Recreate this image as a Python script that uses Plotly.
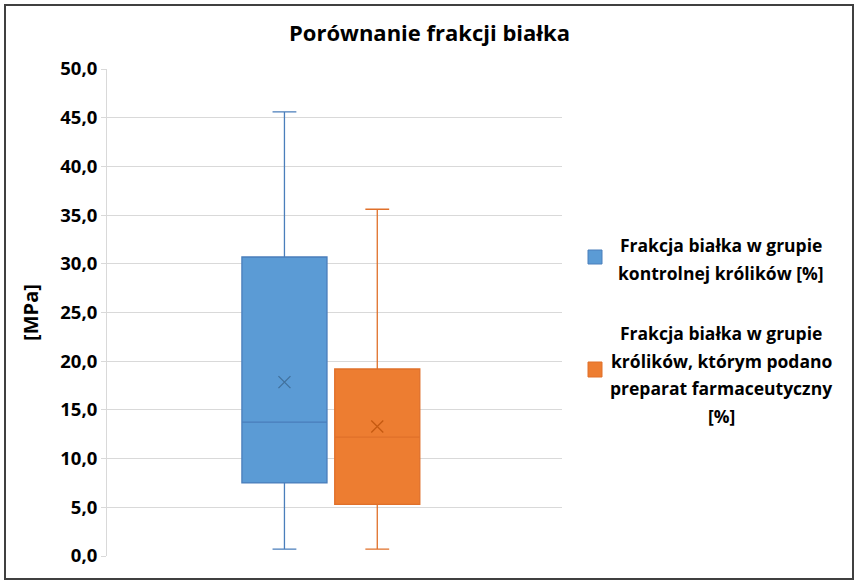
import plotly.graph_objects as go

# ---- data ----
series_names = [
    ["Frakcja białka w grupie", "kontrolnej królików [%]"],
    ["Frakcja białka w grupie", "królików, którym podano", "preparat farmaceutyczny", "[%]"],
]
mins = [0.7, 0.7]
q1s = [7.5, 5.3]
medians = [13.75, 12.2]
q3s = [30.7, 19.2]
maxs = [45.6, 35.6]
means = [17.85, 13.3]
y_ticks = [0, 5, 10, 15, 20, 25, 30, 35, 40, 45, 50]

# ---- styling / layout ----
fills = ["#5B9BD5", "#ED7D31"]
lines = ["#4A7EBB", "#E0702A"]
mean_cols = ["#41719C", "#C55A11"]
centers = [0.39, 0.594]
box_w = 0.187
FONT = "Open Sans"

W, H = 859, 586
L, R, T, B = 107, 297, 69, 30
pw, ph = W - L - R, H - T - B

def px_x(x):
    return (x - L) / pw

def px_y(y):
    return (H - B - y) / ph

fig = go.Figure()
for i in range(2):
    fig.add_trace(go.Box(
        x=[centers[i]], q1=[q1s[i]], median=[medians[i]], q3=[q3s[i]],
        lowerfence=[mins[i]], upperfence=[maxs[i]],
        width=box_w, whiskerwidth=0.28,
        fillcolor=fills[i], line=dict(color=lines[i], width=1.3),
        boxpoints=False, showlegend=False, hoverinfo="skip",
    ))
    fig.add_trace(go.Scatter(
        x=[centers[i]], y=[means[i]], mode="markers",
        marker=dict(symbol="x-thin-open", size=12, color=mean_cols[i],
                    line=dict(color=mean_cols[i], width=1.3)),
        showlegend=False, hoverinfo="skip",
    ))

shapes = [
    dict(type="rect", xref="paper", yref="paper",
         x0=px_x(5), x1=px_x(853), y0=px_y(579), y1=px_y(5),
         line=dict(color="#404040", width=2), fillcolor="rgba(0,0,0,0)", layer="below"),
]
sq = [(250, 264), (362, 377)]
for i in range(2):
    shapes.append(dict(type="rect", xref="paper", yref="paper",
                       x0=px_x(588), x1=px_x(602), y0=px_y(sq[i][1]), y1=px_y(sq[i][0]),
                       fillcolor=fills[i], line=dict(color=lines[i], width=1)))

first_line_y = [245, 333]
line_step = 27.5
annotations = []
for i in range(2):
    for j, txt in enumerate(series_names[i]):
        annotations.append(dict(
            xref="paper", yref="paper", x=px_x(721), y=px_y(first_line_y[i] + j * line_step),
            xanchor="center", yanchor="middle", align="center", showarrow=False,
            text="<b>" + txt + "</b>",
            font=dict(family=FONT, size=17.5, color="#000000"),
        ))

fig.update_layout(
    width=W, height=H,
    margin=dict(l=L, r=R, t=T, b=B),
    paper_bgcolor="white", plot_bgcolor="white",
    separators=", ",
    title=dict(text="<b>Porównanie frakcji białka</b>", x=0.5, xref="container",
               xanchor="center", y=1 - 33 / H, yanchor="middle",
               font=dict(family=FONT, size=22, color="#000000")),
    xaxis=dict(range=[0, 1], showticklabels=False, showgrid=False, zeroline=False,
               showline=False, ticks=""),
    yaxis=dict(range=[0, 50], tickvals=y_ticks, tickformat=".1f",
               showgrid=True, gridcolor="#D9D9D9", gridwidth=1,
               zeroline=False, showline=True, linecolor="#D9D9D9", linewidth=1,
               ticks="outside", ticklen=5, tickcolor="#D9D9D9",
               tickfont=dict(family=FONT, size=18.5, color="#000000", weight="bold"),
               title=dict(text="<b>[MPa]</b>", standoff=16,
                          font=dict(family=FONT, size=20, color="#000000"))),
    shapes=shapes, annotations=annotations,
)

fig.write_html("out.html")
